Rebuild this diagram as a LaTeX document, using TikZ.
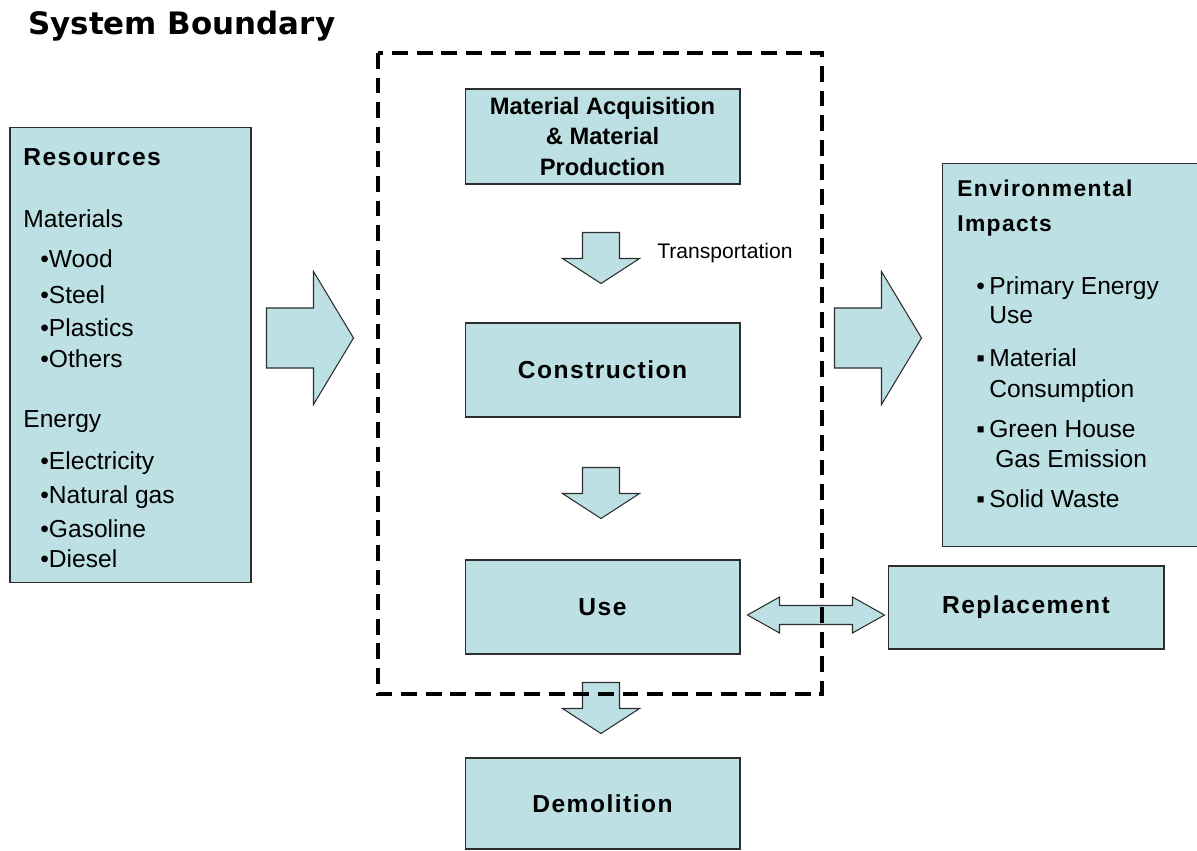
\documentclass[tikz,border=0pt]{standalone}
\usepackage{fontspec}
\setmainfont{Liberation Sans}
\newfontfamily\titlefont{DejaVu Sans}
\newfontfamily\headfont[LetterSpace=6]{Liberation Sans}
\usetikzlibrary{calc}
\definecolor{boxblue}{RGB}{188,224,227}
\definecolor{boxline}{RGB}{45,45,45}
\tikzstyle{plainbox} = [draw=boxline, fill=boxblue, line width=0.6pt,
    rectangle, inner sep=0pt]
\tikzstyle{stagebox} = [plainbox, minimum width=5.5cm,
    font=\headfont\bfseries\fontsize{14}{17}\selectfont]
\tikzstyle{blockarrow} = [draw=boxline, fill=boxblue, line width=0.6pt, line join=miter]
\tikzstyle{listtext} = [inner sep=0pt, anchor=base west, font=\fontsize{14}{17}\selectfont]
\tikzstyle{boundary} = [line width=2pt, dash pattern=on 9pt off 5pt]

% block arrow pointing down, #1 = middle of its top edge
\newcommand{\downblock}[1]{%
  \draw[blockarrow] #1 ++(-18.5,0) -- ++(37,0) -- ++(0,26) -- ++(20,0)
    -- ++(-38.5,25) -- ++(-38.5,-25) -- ++(20,0) -- cycle;}
% block arrow pointing right, #1 = middle of its left edge
\newcommand{\rightblock}[1]{%
  \draw[blockarrow] #1 ++(0,-30) -- ++(47,0) -- ++(0,-36.5) -- ++(40,66.5)
    -- ++(-40,66.5) -- ++(0,-36.5) -- ++(-47,0) -- cycle;}

\begin{document}
\begin{tikzpicture}[x=0.02cm, y=-0.02cm]
\useasboundingbox (0,0) rectangle (1197,851);

\node[inner sep=0pt, anchor=base west, font=\titlefont\bfseries\fontsize{17.6}{21}\selectfont] (title) at (28,35) {System Boundary};

% inputs
\node[plainbox, minimum width=4.82cm, minimum height=9.12cm] (res) at (130.5,355) {};
\node[listtext, font=\headfont\bfseries\fontsize{14}{17}\selectfont] (reshead) at (23,166) {Resources};
\node[listtext] (materials) at (23,228) {Materials};
\foreach \yy/\txt in {268/Wood, 303/Steel, 337/Plastics, 367/Others}
  \node[listtext] (mat-\yy) at (40,\yy) {•\txt};
\node[listtext] (energy) at (23,427) {Energy};
\foreach \yy/\txt in {469/Electricity, 503/Natural gas, 537/Gasoline, 567/Diesel}
  \node[listtext] (en-\yy) at (40,\yy) {•\txt};

% life cycle stages
\node[stagebox, minimum height=1.9cm, align=center,
  font=\bfseries\fontsize{13.5}{17.4}\selectfont] (mat) at (602.5,136.5)
  {Material Acquisition\\ \& Material\\ Production};
\node[stagebox, minimum height=1.88cm] (cons) at (602.5,370) {Construction};
\node[stagebox, minimum height=1.88cm] (use) at (602.5,607) {Use};
\node[stagebox, minimum height=1.82cm] (demo) at (602.5,803.5) {Demolition};
\node[stagebox, minimum width=5.52cm, minimum height=1.66cm] (repl) at (1026,607.5) {Replacement};

\node[listtext, font=\fontsize{12}{14}\selectfont] (transp) at (657,259) {Transportation};

% outputs
\node[plainbox, minimum width=5.14cm, minimum height=7.68cm] (env) at (1070.5,355) {};
\node[listtext, font=\headfont\bfseries\fontsize{13}{16}\selectfont] (envhead) at (957,197) {Environmental};
\node[listtext, font=\headfont\bfseries\fontsize{13}{16}\selectfont] (envhead2) at (957,232) {Impacts};
\foreach \xx/\yy/\bl/\txt in {976/295/•/Primary Energy, 976/323//Use, 976/366/▪/Material,
    976/397//Consumption, 976/437/▪/Green House, 982/467//Gas Emission, 976/507/▪/Solid Waste}
  \node[listtext] (imp-\yy) at (\xx,\yy) {\makebox[0.26cm][l]{\bl}\txt};

% block arrows
\rightblock{($(res.east)+(15,-17)$)}
\rightblock{($(env.west)+(-107,-17)$)}
\downblock{($(mat.south)+(-1.5,48)$)}
\downblock{($(cons.south)+(-1.5,50)$)}
\downblock{($(use.south)+(-1.5,28)$)}
\draw[blockarrow] ($(use.east)+(7,8)$) -- ++(32,-18) -- ++(0,8.5) -- ++(73,0) -- ++(0,-8.5)
  -- ++(32,18) -- ++(-32,18) -- ++(0,-8.5) -- ++(-73,0) -- ++(0,8.5) -- cycle;

\draw[boundary] (378,53) rectangle (822,694);

\end{tikzpicture}
\end{document}
